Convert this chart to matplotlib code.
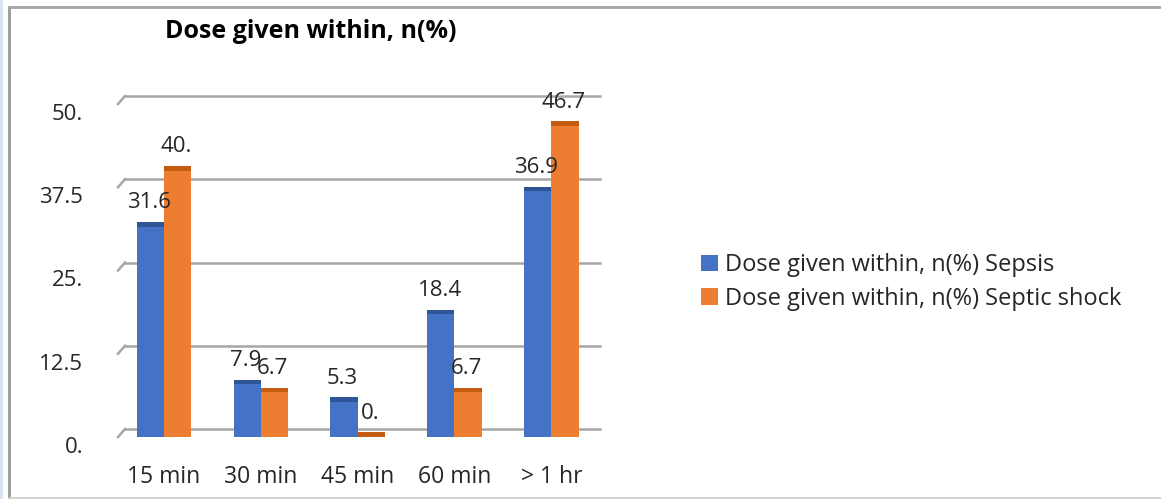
import matplotlib.pyplot as plt
import matplotlib.transforms as mtransforms
from matplotlib.patches import Patch, Rectangle
from matplotlib.lines import Line2D
import numpy as np

plt.rcParams['font.family'] = ['Open Sans', 'DejaVu Sans']

categories = ['15 min', '30 min', '45 min', '60 min', '> 1 hr']
sepsis = [31.6, 7.9, 5.3, 18.4, 36.9]
septic_shock = [40.0, 6.7, 0.0, 6.7, 46.7]
yticks = [0, 12.5, 25, 37.5, 50]
series_names = ['Dose given within, n(%) Sepsis', 'Dose given within, n(%) Septic shock']

blue, orange = '#4472C4', '#ED7D31'
blue_top, orange_top = '#2F5597', '#C55A11'


def fmt(v):
    s = f'{v:g}'
    return s if '.' in s else s + '.'


fig = plt.figure(figsize=(11.61, 4.99), dpi=100)
fig.patch.set_facecolor('white')

# frame of the pasted chart
fig.patches.append(Rectangle((0, 0), 3 / 1161, 1, transform=fig.transFigure,
                             facecolor='#dae3f3', edgecolor='none'))
fig.add_artist(Line2D([9 / 1161, 9 / 1161], [0, 1 - 6.5 / 499], transform=fig.transFigure,
                      color='#a0a0a0', lw=2.2))
fig.add_artist(Line2D([9 / 1161, 1], [1 - 6.5 / 499, 1 - 6.5 / 499], transform=fig.transFigure,
                      color='#a6a6a6', lw=2.0))
fig.add_artist(Line2D([9 / 1161, 1], [1.5 / 499, 1.5 / 499], transform=fig.transFigure,
                      color='#d0d0d0', lw=2.0))

ax = fig.add_axes([125 / 1161, 62 / 499, 470 / 1161, 333 / 499])
x = np.arange(len(categories))
w = 0.28

ax.bar(x - w / 2, sepsis, w, color=blue, zorder=3)
ax.bar(x + w / 2, septic_shock, w, color=orange, zorder=3)
# darker top faces
cap = 0.7
ax.bar(x - w / 2, cap, w, bottom=sepsis, color=blue_top, zorder=3)
ax.bar(x + w / 2, cap, w, bottom=septic_shock, color=orange_top, zorder=3)

ax.set_xlim(-0.4, 4.45)
ax.set_ylim(0, 50)

# back-wall gridlines with slanted stubs
off = mtransforms.offset_copy(ax.transData, fig=fig, x=0, y=8, units='dots')
stub0 = mtransforms.offset_copy(ax.transData, fig=fig, x=-7, y=0, units='dots')
for v in yticks:
    ax.plot([-0.4, 4.5], [v, v], color='#a6a6a6', lw=1.8, transform=off, zorder=1, clip_on=False)
    p0 = stub0.transform((-0.4, v))
    p1 = off.transform((-0.4, v))
    fig.add_artist(Line2D([p0[0] / fig.bbox.width, p1[0] / fig.bbox.width],
                          [p0[1] / fig.bbox.height, p1[1] / fig.bbox.height],
                          transform=fig.transFigure, color='#a6a6a6', lw=1.8))

for xi, v in zip(x - w / 2, sepsis):
    ax.annotate(fmt(v), (xi, v), xytext=(-1, 17), textcoords='offset points',
                ha='center', va='center', fontsize=16, color='#262626', zorder=5)
for xi, v in zip(x + w / 2, septic_shock):
    ax.annotate(fmt(v), (xi, v), xytext=(-1, 17), textcoords='offset points',
                ha='center', va='center', fontsize=16, color='#262626', zorder=5)

ax.set_xticks(x)
ax.set_xticklabels(categories)
ax.set_yticks(yticks)
ax.set_yticklabels([fmt(v) for v in yticks])
ax.tick_params(axis='x', length=0, pad=20, labelsize=16.5, labelcolor='#262626')
ax.tick_params(axis='y', length=0, pad=30, labelsize=16, labelcolor='#262626')
for lab in ax.get_yticklabels():
    lab.set_va('top')
for s in ax.spines.values():
    s.set_visible(False)

fig.text(311 / 1161, 1 - 31 / 499, 'Dose given within, n(%)', ha='center', va='center',
         fontsize=18, fontweight='bold', color='black')

handles = [Patch(facecolor=blue), Patch(facecolor=orange)]
fig.legend(handles, series_names, loc='center left',
           bbox_to_anchor=(680 / 1161, 1 - 282 / 499), frameon=False,
           fontsize=17, handlelength=0.7, handleheight=0.7, handletextpad=0.3,
           labelspacing=0.4, labelcolor='#262626')

fig.savefig('out.png', dpi=100)
